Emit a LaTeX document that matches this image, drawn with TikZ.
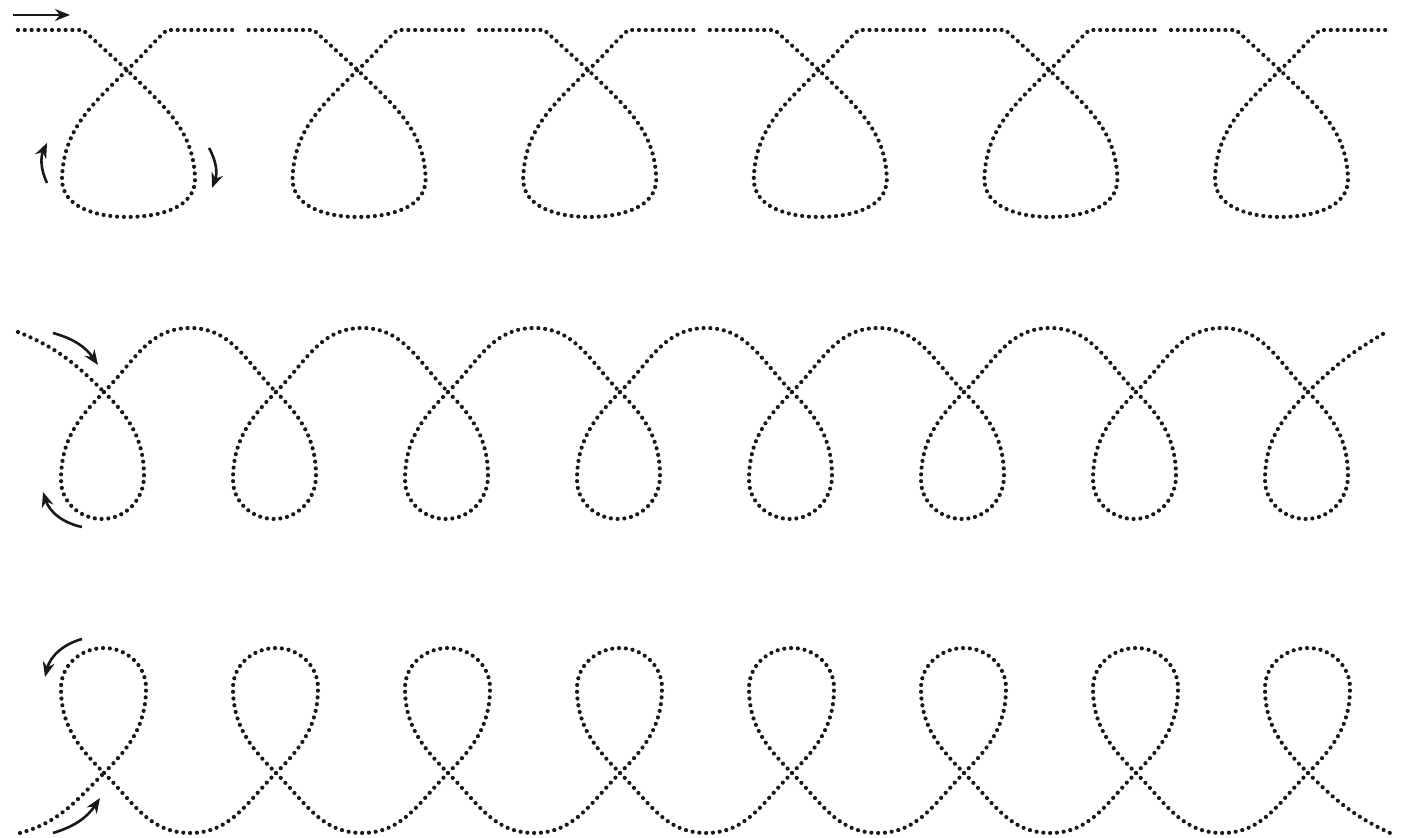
\documentclass[tikz,border=0pt]{standalone}
\usepackage{tikz}
\usetikzlibrary{arrows.meta}
\tikzset{
  pathdots/.style={line width=2.1pt, line cap=round, dash pattern=on 0pt off 3.4pt, black!90},
  dirarrow/.style={-{Stealth[length=7.5pt, width=6pt]}, line width=1.3pt, black!90},
}

\begin{document}
\begin{tikzpicture}[x=0.5pt, y=0.5pt]
  \useasboundingbox (0,0) rectangle (1404,838);

  % row 1: straight line with hanging loops
  \foreach \i in {0,...,5} {
    \pgfmathsetmacro\dx{230.6*\i}
    \draw[pathdots] (18+\dx,808) -- (83+\dx,808)
      to[out=-42,in=138] (127+\dx,768)
      to[out=-45,in=92] (195+\dx,660)
      to[out=-88,in=0] (127+\dx,621)
      to[out=180,in=-92] (62+\dx,660)
      to[out=88,in=-135] (127+\dx,768)
      to[out=42,in=-138] (167+\dx,808) -- (237+\dx,808);
  }
  \draw[dirarrow] (13,823) -- (70,823);
  \draw[dirarrow] (47,655) to[bend left=25] (47,695);
  \draw[dirarrow] (209,690) to[bend left=25] (212,650);

  % row 2: arches with hanging loops
  \draw[pathdots] (18,506) to[out=-22,in=135] (104,446);
  \foreach \i in {0,...,7} {
    \pgfmathsetmacro\c{104+172*\i}
    \draw[pathdots] (\c,446)
      to[out=-45,in=90] (\c+40,362)
      to[out=-90,in=0] (\c-2,319)
      to[out=180,in=-90] (\c-43,358)
      to[out=90,in=-135] (\c,446);
  }
  \foreach \i in {0,...,6} {
    \pgfmathsetmacro\c{104+172*\i}
    \draw[pathdots] (\c,446) to[out=45,in=180] (\c+86,510)
      to[out=0,in=135] (\c+172,446);
  }
  \draw[pathdots] (1308,446) to[out=45,in=-150] (1388,507);
  \draw[dirarrow] (53,505) to[bend left=20] (98,473);
  \draw[dirarrow] (82,311) to[bend left=30] (43,346);

  % row 3: valleys with standing loops
  \draw[pathdots] (20,5) to[out=15,in=-135] (104,65);
  \foreach \i in {0,...,7} {
    \pgfmathsetmacro\c{104+172*\i}
    \draw[pathdots] (\c,65)
      to[out=45,in=-90] (\c+42,150)
      to[out=90,in=0] (\c,190)
      to[out=180,in=90] (\c-43,150)
      to[out=-90,in=135] (\c,65);
  }
  \foreach \i in {0,...,6} {
    \pgfmathsetmacro\c{104+172*\i}
    \draw[pathdots] (\c,65) to[out=-45,in=180] (\c+86,5)
      to[out=0,in=-135] (\c+172,65);
  }
  \draw[pathdots] (1308,65) to[out=-45,in=155] (1390,5);
  \draw[dirarrow] (82,199) to[bend right=30] (45,161);
  \draw[dirarrow] (53,5) to[bend right=20] (100,40);
\end{tikzpicture}
\end{document}
